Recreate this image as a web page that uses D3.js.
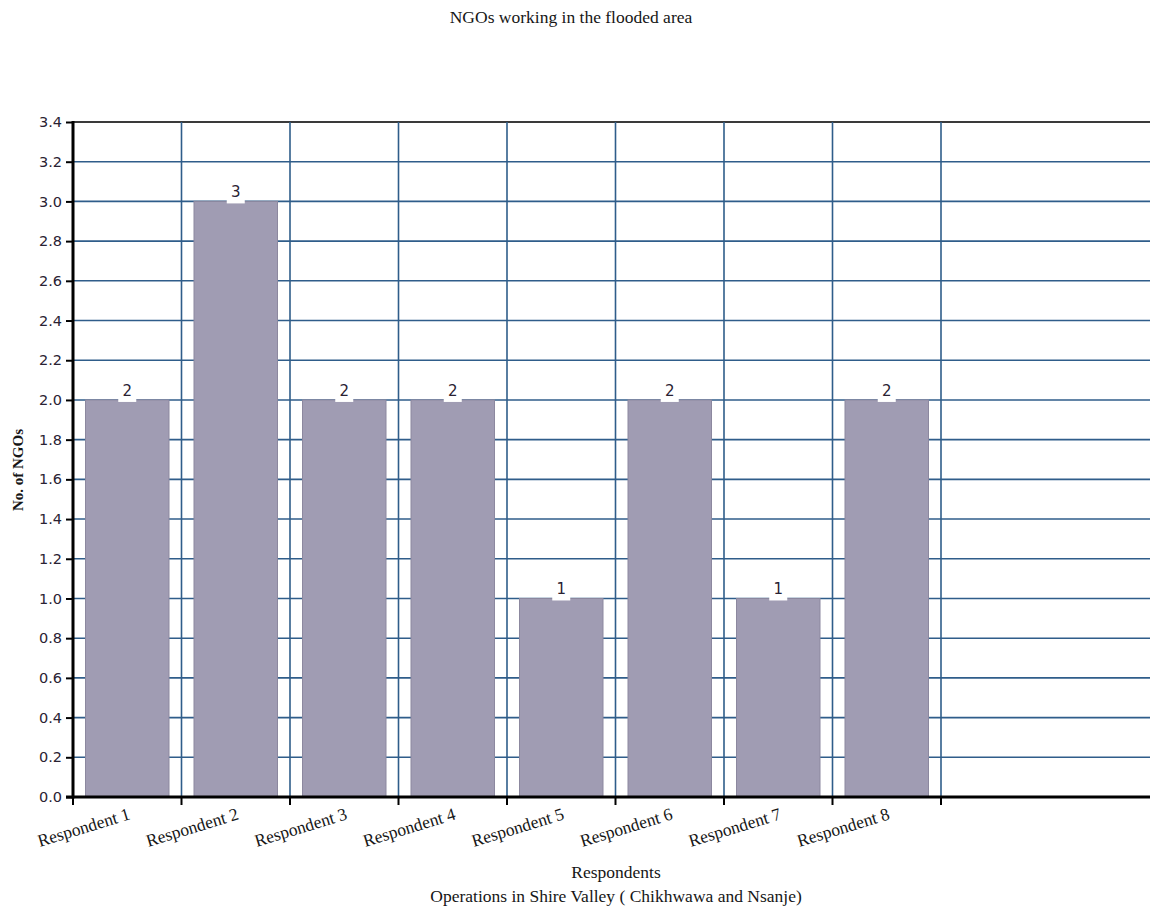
<!DOCTYPE html>
<html>
<head>
<meta charset="utf-8">
<script src="https://cdn.jsdelivr.net/npm/d3@7"></script>
<style>
  html, body { margin: 0; padding: 0; background: #fff; }
  svg { display: block; }
</style>
</head>
<body>
<script>
// Number of NGOs reported by each respondent
const respondents = ["Respondent 1", "Respondent 2", "Respondent 3", "Respondent 4",
                     "Respondent 5", "Respondent 6", "Respondent 7", "Respondent 8"];
const ngoCounts = [2, 3, 2, 2, 1, 2, 1, 2];
const yTicks = [0, 0.2, 0.4, 0.6, 0.8, 1.0, 1.2, 1.4, 1.6, 1.8, 2.0, 2.2, 2.4, 2.6, 2.8, 3.0, 3.2, 3.4];

(function () {
const W = 1154, H = 909;
const pLeft = 73, pTop = 122, pBottom = 797, pRight = 1150;
const step = 108.5;
const serif = "Liberation Serif, serif";
const textColor = "#161616";

const svg = d3.select("body").append("svg").attr("width", W).attr("height", H);

const x = d3.scaleBand().domain(respondents)
  .range([pLeft, pLeft + step * respondents.length]).padding(0);
const y = d3.scaleLinear().domain([0, 3.4]).range([pBottom, pTop]);

const gridColor = "#2f5d8a";

// horizontal gridlines
svg.append("g").selectAll("line").data(yTicks.filter(d => d > 0 && d < 3.4)).join("line")
  .attr("x1", pLeft).attr("x2", pRight)
  .attr("y1", d => y(d)).attr("y2", d => y(d))
  .attr("stroke", gridColor).attr("stroke-width", 1.6);

// top border line
svg.append("line").attr("x1", pLeft).attr("x2", pRight)
  .attr("y1", y(3.4)).attr("y2", y(3.4))
  .attr("stroke", "#3a3a3a").attr("stroke-width", 2.2);

// vertical gridlines at band boundaries
const bounds = respondents.map(r => x(r) + x.bandwidth());
svg.append("g").selectAll("line").data(bounds).join("line")
  .attr("x1", d => d).attr("x2", d => d)
  .attr("y1", pTop).attr("y2", pBottom)
  .attr("stroke", gridColor).attr("stroke-width", 1.6);

// bars
const inset = 12.5;
svg.append("g").selectAll("rect").data(respondents).join("rect")
  .attr("x", (d) => x(d) + inset)
  .attr("width", x.bandwidth() - 2 * inset)
  .attr("y", (d, i) => y(ngoCounts[i]))
  .attr("height", (d, i) => pBottom - y(ngoCounts[i]))
  .attr("fill", "#a09cb3")
  .attr("stroke", "#8c889f").attr("stroke-width", 1);

// value labels with a small white backing tab
const lab = svg.append("g");
respondents.forEach((r, i) => {
  const cx = x(r) + x.bandwidth() / 2;
  const yy = y(ngoCounts[i]);
  lab.append("rect").attr("x", cx - 9).attr("y", yy - 2).attr("width", 18).attr("height", 4).attr("fill", "#fff");
  lab.append("text").attr("x", cx).attr("y", yy - 4)
    .attr("text-anchor", "middle")
    .attr("font-family", "DejaVu Sans, sans-serif").attr("font-size", 15)
    .attr("fill", "#2a2233")
    .text(ngoCounts[i]);
});

// y axis
const yAxis = svg.append("g").attr("transform", `translate(${pLeft},0)`)
  .call(d3.axisLeft(y).tickValues(yTicks).tickFormat(d3.format(".1f")).tickSize(7).tickSizeOuter(0));
yAxis.select(".domain").remove();
yAxis.selectAll(".tick line").attr("stroke", "#000").attr("stroke-width", 2);
yAxis.selectAll(".tick text")
  .attr("font-family", "DejaVu Sans, sans-serif").attr("font-size", 14.5)
  .attr("fill", "#2a2233").attr("x", -11);
svg.append("line").attr("x1", pLeft).attr("x2", pLeft).attr("y1", pTop - 1).attr("y2", pBottom + 1.5)
  .attr("stroke", "#000").attr("stroke-width", 3);

// x axis
svg.append("line").attr("x1", pLeft - 7).attr("x2", pRight).attr("y1", pBottom).attr("y2", pBottom)
  .attr("stroke", "#000").attr("stroke-width", 3);
svg.append("g").selectAll("line").data([pLeft].concat(bounds)).join("line")
  .attr("x1", d => d).attr("x2", d => d).attr("y1", pBottom).attr("y2", pBottom + 8)
  .attr("stroke", "#000").attr("stroke-width", 2);

svg.append("g").selectAll("text").data(respondents).join("text")
  .attr("transform", d => `translate(${x(d) + x.bandwidth() / 2 + 4},${pBottom + 22}) rotate(-17)`)
  .attr("text-anchor", "end")
  .attr("font-family", serif).attr("font-size", 17.5)
  .attr("fill", textColor)
  .text(d => d);

// titles
svg.append("text").attr("x", 571).attr("y", 23).attr("text-anchor", "middle")
  .attr("font-family", serif).attr("font-size", 17.5).attr("fill", textColor)
  .text("NGOs working in the flooded area");

svg.append("text").attr("x", 616).attr("y", 878).attr("text-anchor", "middle")
  .attr("font-family", serif).attr("font-size", 17.5).attr("fill", textColor)
  .text("Respondents");
svg.append("text").attr("x", 616).attr("y", 902).attr("text-anchor", "middle")
  .attr("font-family", serif).attr("font-size", 17.5).attr("fill", textColor)
  .text("Operations in Shire Valley ( Chikhwawa and Nsanje)");

svg.append("text").attr("transform", "translate(23,470) rotate(-90)").attr("text-anchor", "middle")
  .attr("font-family", serif).attr("font-size", 15).attr("font-weight", "bold")
  .attr("fill", textColor)
  .text("No. of NGOs");
})();
</script>
</body>
</html>
